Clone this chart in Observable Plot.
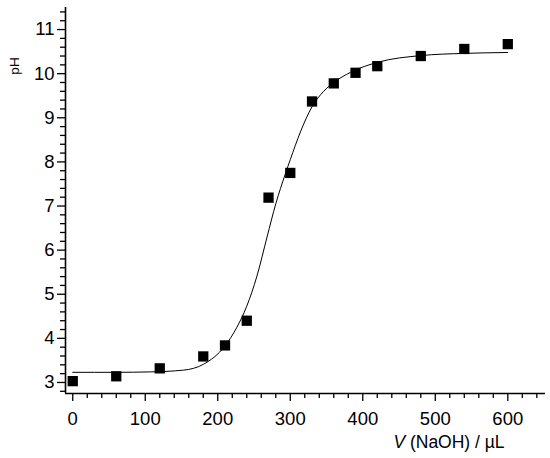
<!DOCTYPE html>
<html>
<head>
<meta charset="utf-8">
<script src="https://cdn.jsdelivr.net/npm/d3@7"></script>
<script src="https://cdn.jsdelivr.net/npm/@observablehq/plot@0.6"></script>
<style>
  html, body { margin: 0; padding: 0; background: #fff; }
  svg { display: block; }
</style>
</head>
<body>
<div id="chart"></div>
<script>
// Measured titration points
const volume = [0, 60, 120, 180, 210, 240, 270, 300, 330, 360, 390, 420, 480, 540, 600];
const pH     = [3.03, 3.14, 3.32, 3.59, 3.84, 4.40, 7.19, 7.75, 9.37, 9.78, 10.02, 10.17, 10.40, 10.56, 10.67];

// Fitted curve
const fitVolume = [0, 60, 107, 153, 180, 210, 226, 240, 254, 268, 280, 293, 300, 314, 330, 346, 360, 383, 421, 480, 540, 600];
const fitPH     = [3.23, 3.23, 3.24, 3.28, 3.41, 3.83, 4.24, 4.73, 5.41, 6.30, 7.05, 7.72, 8.05, 8.68, 9.25, 9.60, 9.80, 10.03, 10.26, 10.41, 10.46, 10.48];

const xMajor = [0, 100, 200, 300, 400, 500, 600];
const xMinor = d3.range(0, 660, 20).filter(v => v % 100 !== 0);
const yMajor = [3, 4, 5, 6, 7, 8, 9, 10, 11];
const yMinor = d3.range(28, 115, 2).map(v => v / 10).filter(v => v % 1 !== 0);

const points = volume.map((v, i) => ({v, pH: pH[i]}));
const fit = fitVolume.map((v, i) => ({v, pH: fitPH[i]}));

const xDomain = [-10, 652];
const yDomain = [2.75, 11.5];

const chart = Plot.plot({
  width: 550,
  height: 458,
  marginLeft: 65,
  marginRight: 5,
  marginTop: 7,
  marginBottom: 65,
  style: {fontFamily: "Liberation Sans, Arial, sans-serif", color: "#000", background: "#fff"},
  x: {domain: xDomain},
  y: {domain: yDomain},
  marks: [
    Plot.axisX({ticks: xMinor, tickSize: 5, text: null, label: null, strokeWidth: 1.3}),
    Plot.axisX({ticks: xMajor, tickSize: 8, tickPadding: 10, label: null, fontSize: 18.5, strokeWidth: 1.3}),
    Plot.axisY({ticks: yMinor, tickSize: 5, text: null, label: null, strokeWidth: 1.3}),
    Plot.axisY({ticks: yMajor, tickSize: 8, tickPadding: 3, label: null, fontSize: 18.5, strokeWidth: 1.3}),
    Plot.ruleY([yDomain[0]], {stroke: "#000", strokeWidth: 1.6}),
    Plot.ruleX([xDomain[0]], {stroke: "#000", strokeWidth: 1.6}),
    Plot.line(fit, {x: "v", y: "pH", stroke: "#000", strokeWidth: 1, curve: "monotone-x"}),
    Plot.dot(points, {x: "v", y: "pH", symbol: "square", r: 5.8, fill: "#000", stroke: "none"})
  ]
});

const svg = d3.select(chart);

svg.append("text")
  .attr("x", 449).attr("y", 448)
  .attr("text-anchor", "middle")
  .style("font-size", "17.5px")
  .attr("fill", "#000")
  .call(t => {
    t.append("tspan").attr("font-style", "italic").text("V");
    t.append("tspan").text(" (NaOH) / µL");
  });
svg.append("text")
  .attr("transform", "translate(19,66) rotate(-90)")
  .attr("text-anchor", "middle")
  .style("font-size", "13.5px")
  .attr("fill", "#000")
  .text("pH");

document.getElementById("chart").appendChild(chart);
</script>
</body>
</html>
